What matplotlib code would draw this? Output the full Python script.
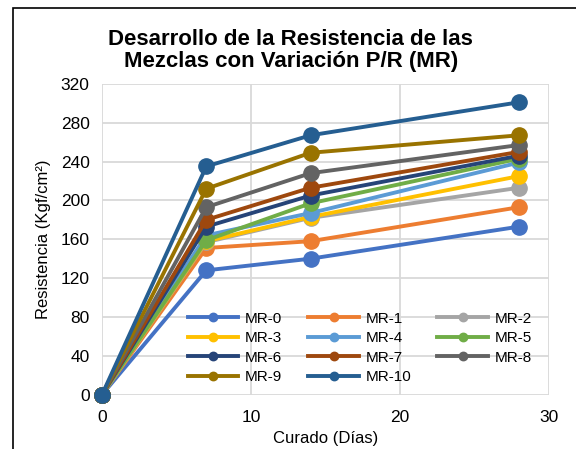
import matplotlib
matplotlib.use('Agg')
import matplotlib.pyplot as plt
from matplotlib.patches import Rectangle

plt.rcParams['font.family'] = ['Liberation Sans', 'DejaVu Sans']

# Días de curado
dias = [0, 7, 14, 28]

# Resistencia (Kgf/cm²) de cada mezcla
mr0 = [0, 128, 140, 173]
mr1 = [0, 151, 158, 193]
mr2 = [0, 157, 182, 213]
mr3 = [0, 158, 183, 225]
mr4 = [0, 164, 187, 239]
mr5 = [0, 159, 197, 243]
mr6 = [0, 173, 205, 246]
mr7 = [0, 180, 213, 250]
mr8 = [0, 193, 228, 257]
mr9 = [0, 212, 249, 267]
mr10 = [0, 235, 267, 301]

nombres = ['MR-0', 'MR-1', 'MR-2', 'MR-3', 'MR-4', 'MR-5',
           'MR-6', 'MR-7', 'MR-8', 'MR-9', 'MR-10']
series = [mr0, mr1, mr2, mr3, mr4, mr5, mr6, mr7, mr8, mr9, mr10]
colores = ['#4472C4', '#ED7D31', '#A5A5A5', '#FFC000', '#5B9BD5', '#70AD47',
           '#264478', '#9E480E', '#636363', '#997300', '#255E91']

fig = plt.figure(figsize=(5.76, 4.49), dpi=100)
ax = fig.add_axes([0.1771, 0.1209, 0.776, 0.6925])

lineas = []
for nombre, valores, color in zip(nombres, series, colores):
    l, = ax.plot(dias, valores, color=color, lw=2.8, marker='o', markersize=11,
                 label=nombre, zorder=3, clip_on=False)
    lineas.append(l)

ax.set_xlim(0, 30)
ax.set_ylim(0, 320)
ax.set_xticks([0, 10, 20, 30])
ax.set_yticks(range(0, 321, 40))
ax.tick_params(length=0, labelsize=12.5, colors='black')
ax.tick_params(axis='y', pad=9)
ax.tick_params(axis='x', pad=11)
ax.grid(True, color='#D9D9D9', lw=1.3)
ax.set_axisbelow(True)
for s in ax.spines.values():
    s.set_visible(False)

ax.set_xlabel('Curado (Días)', fontsize=12, labelpad=4)
ax.set_ylabel('Resistencia (Kgf/cm²)', fontsize=12, labelpad=7)

# leyenda por filas: el orden se arma por columnas
orden = [0, 3, 6, 9, 1, 4, 7, 10, 2, 5, 8]
ax.legend([lineas[i] for i in orden], [nombres[i] for i in orden],
          ncol=3, loc='lower left', bbox_to_anchor=(0.168, 0.0),
          frameon=False, fontsize=11, markerscale=0.55,
          handlelength=3.3, handletextpad=0.45, columnspacing=1.7,
          labelspacing=0.36, borderaxespad=0.3)

fig.text(0.505, 0.888, 'Desarrollo de la Resistencia de las\nMezclas con Variación P/R (MR)',
         ha='center', va='center', fontsize=16, fontweight='bold',
         linespacing=1.08)

# marco del gráfico
fig.patches.append(Rectangle((13 / 576, -0.1), 1.2, 1 - 8 / 449 + 0.1,
                             transform=fig.transFigure, fill=False,
                             edgecolor='black', lw=1.2))

fig.savefig('out.png', dpi=100)
